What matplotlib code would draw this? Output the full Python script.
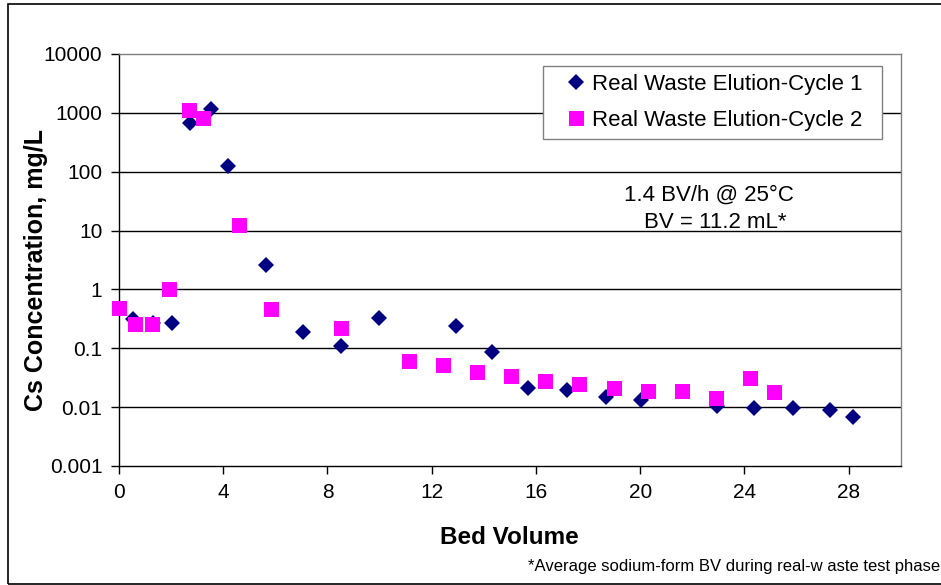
import matplotlib
matplotlib.use("Agg")
import matplotlib.pyplot as plt
from matplotlib.patches import Rectangle

plt.rcParams['font.family'] = ['Liberation Sans', 'DejaVu Sans']

# Cycle 1 (diamonds)
bv1 = [0.54, 1.31, 2.03, 2.73, 3.53, 4.18, 5.64, 7.06, 8.52, 9.98, 12.94, 14.31,
       15.71, 17.19, 18.68, 20.04, 22.94, 24.38, 25.85, 27.27, 28.17]
cs1 = [0.31, 0.27, 0.27, 676, 1170, 126, 2.65, 0.186, 0.108, 0.33, 0.238, 0.086,
       0.021, 0.0193, 0.015, 0.0132, 0.0105, 0.0098, 0.0095, 0.0090, 0.0069]

# Cycle 2 (squares)
bv2 = [0.0, 0.61, 1.28, 1.93, 2.70, 3.24, 4.61, 5.83, 8.51, 11.12, 12.43, 13.73,
       15.04, 16.34, 17.65, 19.0, 20.31, 21.61, 22.92, 24.22, 25.12]
cs2 = [0.49, 0.26, 0.26, 1.03, 1125, 832, 12.3, 0.47, 0.22, 0.061, 0.051, 0.040,
       0.034, 0.028, 0.0246, 0.0209, 0.0186, 0.0186, 0.0145, 0.0316, 0.0183]

xticks = [0, 4, 8, 12, 16, 20, 24, 28]
yticks = [0.001, 0.01, 0.1, 1, 10, 100, 1000, 10000]
ytick_labels = ['0.001', '0.01', '0.1', '1', '10', '100', '1000', '10000']

W, H = 941, 585
fig = plt.figure(figsize=(W / 100, H / 100), dpi=100)
fig.patch.set_facecolor('white')

# outer border
fig.patches.append(Rectangle((8 / W, 1 / H), 1.0, 580 / H, transform=fig.transFigure,
                             fill=False, edgecolor='black', linewidth=1.2))

left, right, top, bottom = 119, 900.7, 54, 466
ax = fig.add_axes([left / W, 1 - bottom / H, (right - left) / W, (bottom - top) / H])

ax.set_yscale('log')
ax.set_xlim(0, 30)
ax.set_ylim(0.001, 10000)

for y in yticks[1:-1]:
    ax.axhline(y, color='black', linewidth=1.0, zorder=1)

ax.plot(bv1, cs1, linestyle='none', marker='D', markersize=8.2, color='#000080',
        markeredgewidth=0, label='Real Waste Elution-Cycle 1', zorder=3, clip_on=False)
ax.plot(bv2, cs2, linestyle='none', marker='s', markersize=10.8, color='#FF00FF',
        markeredgewidth=0, label='Real Waste Elution-Cycle 2', zorder=4, clip_on=False)

ax.set_xticks(xticks)
ax.set_xticklabels([str(t) for t in xticks])
ax.set_yticks(yticks)
ax.set_yticklabels(ytick_labels)
ax.minorticks_off()
ax.tick_params(axis='both', direction='out', length=6, width=1, colors='black',
               labelsize=15, pad=6)

for s in ['left', 'bottom']:
    ax.spines[s].set_color('black')
    ax.spines[s].set_linewidth(1.0)
for s in ['top', 'right']:
    ax.spines[s].set_color('#808080')
    ax.spines[s].set_linewidth(1.0)

fig.text(36 / W, 1 - 270 / H, 'Cs Concentration, mg/L', rotation=90, ha='center',
         va='center', fontsize=18, fontweight='bold')
fig.text(509 / W, 1 - 537 / H, 'Bed Volume', ha='center', va='center',
         fontsize=17.5, fontweight='bold')
fig.text(940 / W, 1 - 566 / H, '*Average sodium-form BV during real-w aste test phase',
         ha='right', va='center', fontsize=12)

fig.text(709 / W, 1 - 195 / H, '1.4 BV/h @ 25°C', ha='center', va='center', fontsize=16)
fig.text(715 / W, 1 - 222 / H, 'BV = 11.2 mL*', ha='center', va='center', fontsize=16)

lx0, lx1, ly0, ly1 = 543, 882, 66, 139
leg = ax.legend(loc='upper left',
                bbox_to_anchor=(lx0 / W, 1 - ly1 / H, (lx1 - lx0) / W, (ly1 - ly0) / H),
                bbox_transform=fig.transFigure, mode='expand', fontsize=16, frameon=True,
                fancybox=False, edgecolor='#808080', framealpha=1,
                handlelength=2.25, handletextpad=-0.4, borderpad=0.36,
                labelspacing=0.68, borderaxespad=0)
leg.get_frame().set_linewidth(1.0)

fig.savefig('out.png', dpi=100, facecolor='white')
